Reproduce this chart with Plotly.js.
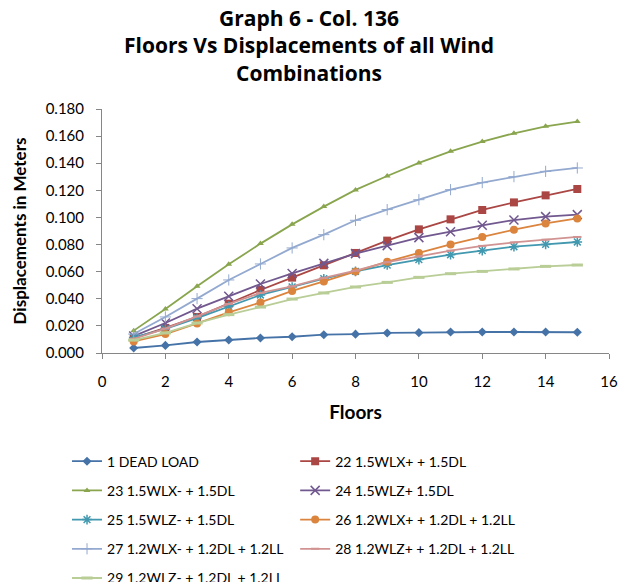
<!DOCTYPE html>
<html>
<head>
<meta charset="utf-8">
<script src="https://cdn.plot.ly/plotly-3.0.1.min.js"></script>
<style>html,body{margin:0;padding:0;background:#fff;}#chart{width:618px;height:582px;}</style>
</head>
<body>
<div id="chart"></div>
<script>
var floors = [1,2,3,4,5,6,7,8,9,10,11,12,13,14,15];

var s1_deadLoad = [0.0037,0.0056,0.0081,0.0096,0.0111,0.0120,0.0135,0.0139,0.0148,0.0150,0.0155,0.0155,0.0155,0.0155,0.0153];
var s22 = [0.0110,0.0185,0.0266,0.0364,0.0465,0.0556,0.0647,0.0738,0.0829,0.0912,0.0986,0.1055,0.1111,0.1163,0.1210];
var s23 = [0.0165,0.0325,0.0492,0.0654,0.0807,0.0949,0.1080,0.1203,0.1306,0.1402,0.1488,0.1560,0.1621,0.1672,0.1707];
var s24 = [0.0125,0.0221,0.0327,0.0418,0.0509,0.0587,0.0661,0.0733,0.0792,0.0851,0.0895,0.0942,0.0981,0.1006,0.1021];
var s25 = [0.0115,0.0177,0.0258,0.0344,0.0428,0.0487,0.0548,0.0602,0.0649,0.0689,0.0725,0.0755,0.0784,0.0801,0.0819];
var s26 = [0.0085,0.0140,0.0218,0.0300,0.0373,0.0458,0.0528,0.0602,0.0674,0.0738,0.0801,0.0856,0.0910,0.0956,0.0993];
var s27 = [0.0140,0.0266,0.0401,0.0539,0.0657,0.0775,0.0873,0.0979,0.1058,0.1131,0.1205,0.1257,0.1301,0.1340,0.1365];
var s28 = [0.0105,0.0180,0.0270,0.0362,0.0443,0.0492,0.0554,0.0607,0.0670,0.0713,0.0755,0.0790,0.0816,0.0836,0.0856];
var s29 = [0.0095,0.0148,0.0221,0.0283,0.0339,0.0398,0.0443,0.0487,0.0521,0.0558,0.0585,0.0602,0.0620,0.0639,0.0649];

var seriesNames = ["1 DEAD LOAD","22 1.5WLX+ + 1.5DL","23 1.5WLX- + 1.5DL","24 1.5WLZ+ 1.5DL",
  "25 1.5WLZ- + 1.5DL","26 1.2WLX+ + 1.2DL + 1.2LL","27 1.2WLX- + 1.2DL + 1.2LL",
  "28 1.2WLZ+ + 1.2DL + 1.2LL","29 1.2WLZ- + 1.2DL + 1.2LL"];
var seriesValues = [s1_deadLoad,s22,s23,s24,s25,s26,s27,s28,s29];

var colors = ["#4572A7","#AA4643","#89A54E","#71588F","#4198AF","#DB843D","#93A9CF","#D19392","#B9CD96"];
var symbols = ["diamond","square","triangle-up","x-thin-open","asterisk-open","circle","cross-thin-open","line-ew-open","line-ew-open"];
var sizes = [7,8,6,9,8,8,8,6,8];
var mlw = [0,0,0,1.5,1.5,0,1,2,3];
var legendIds = ["legend","legend2","legend","legend2","legend","legend2","legend","legend2","legend"];

var traces = seriesNames.map(function(n,i){
  return {
    x: floors, y: seriesValues[i], name: n, type: 'scatter', mode: 'lines+markers',
    line: {color: colors[i], width: 1.8},
    marker: {symbol: symbols[i], size: sizes[i], color: colors[i], line: {color: colors[i], width: mlw[i]}},
    legend: legendIds[i], legendgroup: 'g'+i
  };
});

var fnt = 'Lato, "Open Sans", sans-serif';
var tfnt = '"Open Sans", Lato, sans-serif';
var legendCommon = {
  orientation: 'v', xanchor: 'left', yanchor: 'top', tracegroupgap: 8,
  font: {family: fnt, size: 14, color: '#000'}, bgcolor: 'rgba(0,0,0,0)', borderwidth: 0,
  itemwidth: 30, traceorder: 'grouped'
};

var layout = {
  width: 618, height: 582,
  margin: {l: 102, r: 9, t: 109, b: 229, autoexpand: false},
  paper_bgcolor: '#fff', plot_bgcolor: '#fff',
  font: {family: fnt, color: '#000'},
  title: {
    text: '<b>Graph 6 - Col. 136<br>Floors Vs Displacements of all Wind<br>Combinations</b>',
    font: {family: tfnt, size: 21, color: '#000'},
    x: 0.5, xref: 'container', xanchor: 'center', y: 0.955, yref: 'container', yanchor: 'top'
  },
  xaxis: {
    range: [0,16], dtick: 2, tick0: 0, showgrid: false, zeroline: false,
    showline: true, linecolor: '#868686', linewidth: 1,
    ticks: 'outside', ticklen: 5, tickcolor: '#868686', ticklabelstandoff: 10,
    tickfont: {family: fnt, size: 15, color: '#000'},
    title: {text: '<b>Floors</b>', font: {family: fnt, size: 19, color: '#000'}, standoff: 16}
  },
  yaxis: {
    range: [0,0.18], dtick: 0.02, tick0: 0, tickformat: '.3f', showgrid: false, zeroline: false,
    showline: true, linecolor: '#868686', linewidth: 1,
    ticks: 'outside', ticklen: 5, tickcolor: '#868686', ticklabelstandoff: 9,
    tickfont: {family: fnt, size: 15, color: '#000'},
    title: {text: '<b>Displacements in Meters</b>', font: {family: fnt, size: 17, color: '#000'}, standoff: 14}
  },
  legend: Object.assign({}, legendCommon, {x: -0.069, y: -0.3795}),
  legend2: Object.assign({}, legendCommon, {x: 0.381, y: -0.3795}),
  showlegend: true
};

Plotly.newPlot('chart', traces, layout, {displayModeBar: false, staticPlot: true});
</script>
</body>
</html>
